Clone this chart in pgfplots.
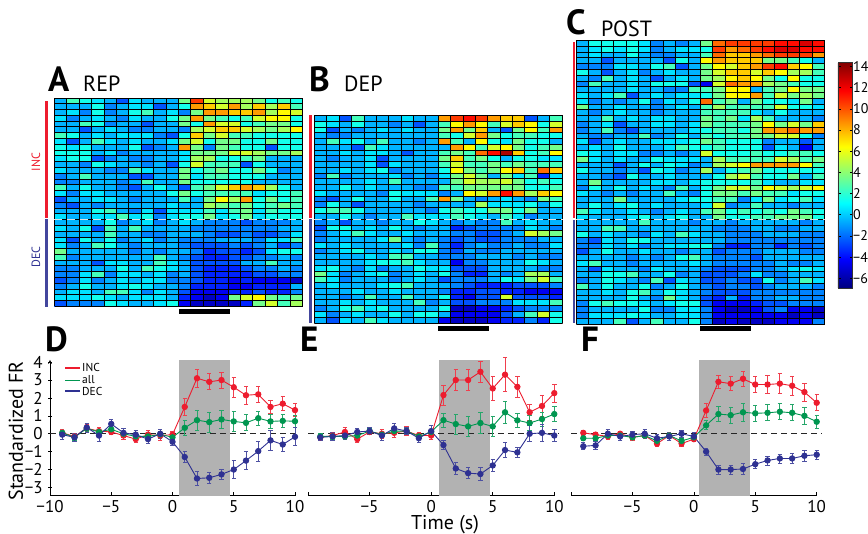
\documentclass[border=0pt]{standalone}
\usepackage{fontspec}
\setmainfont{PT Sans}
\usepackage{pgfplots}
\usepackage{pgfplotstable}
\pgfplotsset{compat=1.18}
\definecolor{cinc}{RGB}{237,28,46}
\definecolor{call}{RGB}{0,150,80}
\definecolor{cdec}{RGB}{46,49,146}
\pgfdeclareplotmark{cell}{%
 \pgfpathrectangle{\pgfpoint{-6.3pt}{-3pt}}{\pgfpoint{12.6pt}{6pt}}%
 \pgfusepathqfill}
\pgfplotstableread[header=false]{
-1 2 1 0 -1 -3 0 -1 -1 -1 3 10 5 4 4 4 3 1 2 1
-1 -1 -1 1 -2 -1 0 0 -3 -1 1 8 7 5 8 4 7 4 7 2
-1 0 -2 1 -2 -1 1 2 -1 0 -2 3 8 8 7 7 8 4 6 5
0 -2 -1 0 -1 -2 0 -1 -1 1 3 8 3 2 1 2 5 6 6 1
-1 -1 2 1 -2 -1 -1 -3 -1 -1 3 1 8 5 5 1 2 3 3 1
-1 -1 -3 -1 0 -1 -2 -2 -1 -1 -2 4 5 7 7 5 4 3 4 6
2 1 -1 0 -1 0 0 0 -2 -3 1 7 3 5 2 2 1 1 1 1
0 -3 -1 2 0 -1 0 -1 -1 0 3 5 1 3 3 1 1 3 1 1
1 0 1 -1 -1 -1 1 -3 -2 -1 8 3 -2 3 2 1 1 -3 1 1
1 1 1 -1 0 -2 -1 -1 -1 -1 0 3 3 3 5 5 4 3 3 4
0 1 1 -3 -2 -1 -2 -2 -1 -1 0 4 4 1 1 2 3 -1 -1 -1
-1 -1 -2 1 0 -1 -1 -2 -1 -3 1 5 2 2 2 -3 1 -1 -1 -1
0 -1 -1 -1 -2 -2 2 0 -1 -1 3 1 2 3 1 1 3 1 -2 -1
-2 -1 2 -1 -1 -1 -3 -3 -1 -1 3 0 2 2 1 1 1 -1 -1 -1
-2 -2 -1 -1 -1 -2 -1 2 -1 -1 3 1 1 1 1 1 -1 -1 -1 -1
2 -1 1 -1 -1 -2 -3 -1 1 -1 -3 2 3 5 7 8 7 4 1 -1
0 -2 0 0 -1 -1 -1 -1 -1 1 3 1 2 2 2 2 0 1 1 2
-3 -1 -1 0 0 -1 -2 -1 -1 -1 2 -1 3 6 4 8 1 3 1 2
-2 -3 -1 -2 -1 -1 -1 -1 -1 0 -1 -1 4 3 2 3 1 2 3 2
-1 -1 -1 1 2 -1 -2 0 -3 0 0 0 2 0 2 3 0 2 1 1
0 -1 -1 0 0 2 0 1 -2 0 1 1 3 0 1 3 0 1 1 1
-1 -1 -1 -1 1 -2 -1 0 -2 -1 0 -1 -2 -2 -2 -3 -2 -2 -2 -1
0 -1 1 -3 2 -1 2 -1 -1 -1 -1 -2 -2 -2 -2 -2 -2 -2 -1 -1
-1 -1 -1 -1 2 -1 -1 -2 -2 -1 -1 -1 -2 -3 -3 -2 -3 -3 -2 0
0 -3 1 -1 1 -2 -1 0 -2 -1 -2 -2 -2 -1 -1 -1 -2 0 0 2
0 -2 -1 2 1 -1 -2 -1 -1 -1 -2 -3 -3 -3 -2 -3 -2 -1 -3 -2
3 -1 -1 -1 -1 -1 -2 -1 -2 -1 -1 -2 -4 -3 -3 -4 -3 0 1 1
2 -2 -1 -1 -1 -1 -1 -1 2 -1 -2 -3 -4 -4 -3 -3 -2 -2 -1 -2
-1 -1 -1 -3 0 0 -1 -1 2 0 -1 -3 -3 -3 -3 -1 -1 2 -1 -1
-2 -2 -1 -1 -1 1 -1 2 1 0 -1 -3 -4 -4 -4 -3 -2 -2 -1 -2
-2 -2 0 2 -2 0 0 -1 0 -2 -1 -3 -4 -4 -4 -4 -3 -3 -2 -2
-3 -2 0 -2 -1 0 -1 0 0 -2 -2 -3 -4 -4 -5 -4 -5 -5 -5 -6
-2 -1 1 -1 -1 0 1 0 -1 -1 -2 -4 -4 -4 -5 -5 -4 -4 -4 -1
-1 0 0 -1 2 2 0 -2 0 -1 -3 -5 -5 -5 -4 -4 -3 -4 -4 -2
0 0 0 1 0 -1 0 0 0 -1 -4 -5 -6 -5 3 5 6 3 2 3
-3 -2 -2 -2 1 0 -1 -1 0 1 -5 -6 -6 -6 -6 -4 3 5 2 4
}\tA
\pgfplotstableread[header=false]{
-1 0 -3 2 -1 -1 -1 0 -1 -1 8 10 11 10 8 7 7 -3 -1 2
1 0 -1 1 -1 -1 -2 -1 -3 -1 2 6 8 6 2 5 7 6 1 5
1 -3 -1 -2 -1 0 -1 0 -1 -1 3 8 3 7 -1 -3 3 6 2 8
-1 -2 -2 -1 -1 -1 -1 -1 -1 -1 2 1 5 8 3 1 2 2 1 1
-1 2 0 1 -1 2 -1 -1 -2 -1 8 2 -1 6 1 0 3 1 1 -1
-1 -1 -1 -3 2 0 -1 -1 -1 -1 -1 8 6 2 5 6 3 1 2 3
-1 -1 0 -1 0 0 -1 -3 -1 -1 2 3 2 9 11 13 7 1 2 6
-1 -2 -1 -1 0 -3 -1 -1 -1 -1 3 7 2 3 1 -1 1 1 0 0
-1 -1 -1 -1 0 -3 0 -1 -1 -1 2 5 2 2 3 2 3 2 2 2
-1 -1 0 -1 0 1 -2 -1 -1 -1 1 6 3 2 3 6 7 2 9 7
-2 2 -2 -1 -1 -1 0 -2 -1 -2 0 3 5 3 -1 3 0 2 -4 0
-1 -1 -1 -1 0 -1 2 -1 -1 -1 -1 3 5 4 4 5 3 1 2 1
-1 -1 1 -1 0 -1 -1 -1 -2 -2 2 2 3 3 3 3 3 1 1 2
0 -1 -1 -1 -1 -2 1 0 0 0 -2 -1 6 5 8 11 8 4 7 6
-2 -3 -1 1 -1 -1 1 -1 -1 2 8 3 -1 -2 -1 0 -1 -2 3 2
-2 1 -1 -3 -1 -1 -1 -1 -2 -1 -1 -1 -1 4 0 0 0 1 -1 1
1 2 2 1 -1 -1 -1 -1 -1 -2 1 2 1 1 3 3 1 3 -1 -1
-1 -1 1 -1 -2 -1 -1 2 0 0 0 2 1 0 -1 2 0 -2 -1 -1
-2 -1 -3 -1 -1 -2 -1 -1 1 0 -1 -2 -1 -2 -2 2 -1 0 -1 -1
-3 1 1 -1 0 -1 1 -1 -2 -1 -1 -4 -3 -2 -2 -2 -2 0 -1 -2
-2 -1 0 2 0 -1 -1 0 -1 -1 -1 -2 -2 -3 -3 -2 -1 5 4 3
-2 -1 -1 -1 -1 0 3 -1 -2 -1 -2 -3 -2 -3 -3 -2 -2 -2 -1 -1
0 -1 0 -1 -1 -1 -1 0 -2 2 -2 -4 -2 -1 -2 -2 -1 -2 -2 0
-2 -1 0 1 -1 -1 0 -1 1 1 -2 -3 -1 -2 -2 -1 -1 -1 -1 -1
-1 -1 -1 -1 0 -1 2 2 -1 -1 -2 -2 -2 -1 -1 -1 -2 -1 -2 -2
-1 -1 -1 -1 0 1 1 2 0 -1 -1 -5 -2 -2 -1 -1 -1 1 0 -1
0 1 -1 -2 0 -2 -1 -1 1 0 0 -3 -3 -3 -1 -1 -1 -1 -2 -2
3 0 -2 -1 0 1 -2 -1 0 -1 1 -2 -4 -4 -1 -2 -1 4 4 -1
2 0 -2 -1 -1 -1 -2 -1 0 -1 -3 -2 -2 -2 -1 1 0 3 5 2
-1 0 -1 -1 -1 0 1 2 -1 -1 -1 -2 -3 -4 -4 -4 -3 -3 -3 -2
-1 -1 -1 0 -1 -1 0 -1 -1 -1 -2 -4 -4 -3 -3 -4 -4 -5 -5 -5
-1 -1 -2 -1 2 -1 -1 2 -1 -1 1 -4 -5 -3 -3 5 -3 -3 -3 -4
-1 -1 0 -1 0 -1 -1 -1 2 -2 -1 -3 -3 -2 -2 -2 0 0 0 2
-2 -1 1 2 0 1 -1 -1 -1 -1 1 -6 -6 -5 -5 -4 -3 -2 -2 -2
0 -2 -1 0 -1 -1 1 -1 1 1 -1 -5 -5 -5 -5 -3 -1 2 5 1
-1 -3 0 -1 2 0 -1 -1 -1 -1 -5 -6 -6 -6 -5 -4 -4 -2 -4 1
}\tB
\pgfplotstableread[header=false]{
-1 1 1 1 1 0 -2 -1 -2 -1 3 9 10 10 10 10 11 11 12 11
-1 0 1 0 1 0 -2 -1 0 0 1 10 8 9 10 11 12 12 11 11
-1 0 -1 -1 1 -1 -2 -2 -1 -1 2 9 7 7 8 9 10 10 10 8
-1 -1 -3 -1 -1 -1 -1 -3 1 -1 6 8 7 7 7 3 3 2 1 -1
-2 -2 -2 0 0 -1 1 2 -3 -1 3 6 5 7 8 10 11 7 6 2
1 -1 -3 -1 0 -2 -1 0 -1 -1 3 5 7 7 5 7 6 4 4 2
-1 -2 2 -1 0 -1 -3 -1 0 -1 3 4 6 7 6 3 1 6 1 1
-2 2 -1 -1 0 -1 1 1 1 -3 -5 5 9 8 8 4 3 2 1 1
-1 -1 -1 -1 0 -1 -1 -2 -2 2 2 3 6 6 -1 2 3 6 3 3
0 -1 0 2 -3 -1 0 -1 0 0 1 3 6 6 8 2 5 3 4 3
0 -2 -1 -2 -1 1 -2 0 -1 1 9 2 3 -1 3 1 1 0 3 -1
3 -1 -1 0 -1 -1 -2 -1 0 -1 2 4 2 2 2 2 5 1 1 0
-1 -2 -1 0 -1 -1 -2 -1 -1 -1 2 2 2 2 0 -1 1 -1 -1 -1
-1 -1 2 -1 0 -1 0 0 -1 -1 3 2 3 0 4 2 -1 -1 -1 -2
-2 -1 0 -3 -1 -1 0 0 -1 0 3 2 2 2 3 6 3 5 3 7
-2 -1 2 -2 -3 -1 -1 -1 -1 0 1 2 2 1 3 8 8 9 8 8
-1 -2 -2 -1 -1 2 -2 -1 1 -1 2 1 2 2 3 3 5 5 1 -2
0 -3 -1 0 -1 -1 0 0 0 1 3 2 1 1 1 -2 -1 -1 -3 -1
-1 0 -1 1 -1 -1 -1 0 2 1 1 2 1 1 1 -3 0 -1 -5 -1
1 0 -1 0 0 -2 -2 -1 -2 -1 5 1 1 1 2 1 1 2 2 1
3 0 -1 0 -1 -1 1 0 0 0 -1 4 2 2 2 2 5 4 2 3
-1 -1 -1 -3 -1 1 -1 1 0 -2 -1 4 5 6 8 8 8 8 6 2
1 -1 -1 -2 -1 -3 1 0 -2 -1 4 -1 1 2 3 1 1 1 1 1
-1 -1 -2 -3 1 -1 -1 0 -1 -1 -1 1 4 5 2 1 1 3 -1 2
-1 3 -1 -1 -1 -1 0 0 -1 0 1 1 1 1 2 0 -1 -1 0 0
-2 1 -1 1 -1 0 -1 -2 2 -1 1 3 5 5 3 6 5 4 5 6
0 -1 -2 -1 -2 -1 -1 2 -1 -2 1 3 3 2 3 2 2 0 1 1
-1 -1 -1 3 -1 -1 -1 -1 0 1 1 2 2 -2 0 3 0 1 2 0
-1 1 -1 0 1 -1 0 -1 -1 -1 0 5 -2 -1 2 -1 -1 -2 -1 -1
2 0 -1 -1 0 -1 -2 -1 0 -1 2 3 1 2 1 2 1 3 2 1
0 -1 -1 -1 0 1 -1 0 1 -1 -1 3 1 1 2 2 3 3 3 1
-1 -1 -1 -1 -1 2 -1 -1 -1 -2 -1 -1 -2 -1 -1 -1 -1 -1 -2 -1
-1 -1 2 2 -1 -1 -1 -1 -1 -1 -1 -2 -2 -2 -1 -1 -2 -2 -1 -1
1 -1 0 -1 -1 -2 0 -1 2 0 -1 -1 -2 -2 -2 -1 -1 -1 -2 -2
-2 -3 0 -1 1 1 -1 -1 -1 -1 -1 -1 -2 -2 -2 -2 -2 -2 -2 -2
-2 -2 0 -1 0 -2 -1 0 0 1 1 -2 -4 -4 -2 -2 -4 -2 -3 -2
-3 -1 1 -1 -1 0 -1 -1 -2 -1 -1 -3 -2 -2 -2 -1 -1 -1 -2 -2
-1 -1 -1 -1 -2 -1 -2 -1 1 2 -1 -2 -2 -2 -3 -1 -1 -1 -1 -1
0 2 -1 -1 -2 -1 -1 -1 -1 0 -1 -2 -2 -2 -2 -2 -1 -2 -2 -1
-1 -3 0 -1 -1 -2 0 -1 -1 -1 -2 -3 -3 -3 -2 -2 -1 0 1 0
-1 -1 1 1 2 -1 -1 1 -2 -1 -3 -3 -3 -2 0 -2 -2 -1 -1 -1
-2 -1 1 0 -1 -2 2 -3 0 -1 -3 -3 -2 -3 -3 1 -2 -1 2 0
2 -1 1 -1 -1 1 -2 -1 1 -1 -2 -3 -2 -2 -3 -2 -1 -1 -1 -2
-1 -1 0 -1 1 2 -1 1 0 -1 -2 -3 -3 -3 -2 -2 -2 -2 -2 -2
-1 -1 -1 -1 1 -1 -2 3 0 -1 -3 -4 -1 -4 -2 -2 -1 -1 -2 -2
-2 1 2 1 1 0 -1 0 1 1 -3 -5 -5 -5 -4 -3 -3 -2 -2 -2
-2 -1 -1 -1 -1 1 -2 -2 0 0 -2 -5 -6 -6 -5 -3 -2 -5 -5 -6
-2 0 0 0 1 0 -1 -1 0 0 -2 -5 -5 -5 -5 -5 -5 -6 -5 -6
-1 -1 -1 2 -3 -1 2 -1 -1 1 -2 -6 -5 -6 -6 -6 -5 -5 -5 -2
}\tC
\pgfplotsset{
 heat/.style={
  scale only axis, axis on top, clip=false,
  width=#1, xmin=-0.5, xmax=19.5,
  xtick=\empty, ytick=\empty,
  y dir=reverse, colormap/jet, point meta min=-6.9, point meta max=14.4,
  axis line style={black!70, line width=.6pt},
 },
 line/.style={
  scale only axis, width=#1, height=135.7pt, xmin=-10, xmax=10, ymin=-3.46, ymax=4.12,
  clip=false,
  axis x line=bottom, axis line style={-, line width=.7pt},
  tick align=inside, major tick length=3.5pt,
  tick style={black, line width=.7pt},
  xtick={-10,-5,0,5,10},
  xtick style={draw=black},
  tick label style={font=\fontsize{17}{17}\selectfont},
  xticklabel style={yshift=-1pt},
 },
 ser/.style={color=#1, mark=*, mark size=2.7pt, line width=.9pt,
  mark options={solid},
  error bars/.cd, y dir=both, y explicit,
  error bar style={line width=.8pt, #1!85!white},
  error mark options={rotate=90, mark size=2.2pt, line width=.8pt, #1!85!white}},
 sep/.style={black, line width=0.95pt, forget plot, mark=none},
}
\newcommand{\heatcols}[1]{%
 \pgfplotsinvokeforeach{0,...,19}{%
  \addplot[scatter, only marks, scatter src=explicit, mark=cell,
   scatter/use mapped color={fill=mapped color}]
   table[x expr=##1, y expr=\coordindex, meta expr=\thisrowno{##1}+0.5]{#1};
 }}
% overlay axis with the row separators: #1 width, #2 height, #3 position, #4 last row edge
\newcommand{\heatgrid}[4]{%
 \begin{axis}[scale only axis, width=#1, height=#2, at={#3}, anchor=south west, hide axis, clip=false,
   xmin=-0.5, xmax=19.5, ymin=-0.5, ymax=#4, y dir=reverse]
 \pgfplotsinvokeforeach{-0.5,0.5,...,#4}{%
  \addplot[sep] coordinates {(-0.5,##1)(19.5,##1)};
 }
 \end{axis}}
\newcommand{\common}[2]{%
 \addplot[fill=black!30, draw=none, forget plot] coordinates {(#1,-3.46)(#2,-3.46)(#2,4.12)(#1,4.12)} -- cycle;
 \addplot[black!85, dash pattern=on 6pt off 4pt, line width=.8pt, forget plot] coordinates {(-10,0)(10.4,0)};
}
\begin{document}
\begin{tikzpicture}[x=1pt,y=1pt]
\path[use as bounding box] (0,0) rectangle (868,534);
% ---- heatmaps
\begin{axis}[heat=248pt, at={(54.5pt,227.5pt)}, anchor=south west, height=208.5pt, ymin=-0.5, ymax=35.5]
\heatcols{\tA}
\end{axis}
\heatgrid{248pt}{208.5pt}{(54.5pt,227.5pt)}{35.5}
\begin{axis}[heat=247.5pt, at={(314.5pt,211pt)}, anchor=south west, height=207.5pt, ymin=-0.5, ymax=35.5]
\heatcols{\tB}
\end{axis}
\heatgrid{247.5pt}{207.5pt}{(314.5pt,211pt)}{35.5}
\begin{axis}[heat=248pt, at={(576.5pt,210pt)}, anchor=south west, height=283.5pt, ymin=-0.5, ymax=48.5,
 colorbar, colorbar style={at={(1.0544,0.923)}, anchor=north west, scale only axis, width=14.7pt, height=225.4pt,
  ytick={-6,-4,-2,0,2,4,6,8,10,12,14},
  yticklabels={−6,−4,−2,0,2,4,6,8,10,12,14},
  tick align=inside, major tick length=3pt, tick style={black, line width=.6pt},
  yticklabel style={font=\fontsize{14}{14}\selectfont, xshift=-3pt},
  axis line style={black!80},
 }]
\heatcols{\tC}
\end{axis}
\heatgrid{248pt}{283.5pt}{(576.5pt,210pt)}{48.5}
% column separators of the three heatmaps
\foreach \i in {0,...,20} {
 \draw[black, line width=.95pt] ({54.5+\i*12.4},227.5)--({54.5+\i*12.4},436);
 \draw[black, line width=.95pt] ({314.5+\i*12.375},211)--({314.5+\i*12.375},418.5);
 \draw[black, line width=.95pt] ({576.5+\i*12.4},210)--({576.5+\i*12.4},493.5);
}
% ---- line plots
\begin{axis}[line=245pt, at={(50pt,38.3pt)}, anchor=south west,
  axis y line=left, xticklabels={−10,−5,0,5,10},
  ytick={-3,-2,-1,0,1,2,3,4}, yticklabels={−3,−2,−1,0,1,2,3,4},
  yticklabel style={xshift=-2pt},
 ]
\common{0.5}{4.67}
\addplot[ser=cinc] coordinates {(-9,0.05)+-(0,.2)(-8,-0.15)+-(0,.18)(-7,0.3)+-(0,.2)(-6,0.15)+-(0,.2)(-5,0.1)+-(0,.15)(-4,-0.1)+-(0,.2)(-3,-0.3)+-(0,.2)(-2,-0.05)+-(0,.25)(-1,-0.1)+-(0,.25)(0,-0.05)+-(0,.2)(1,1.5)+-(0,.5)(2,3.1)+-(0,.5)(3,2.9)+-(0,.45)(4,3.0)+-(0,.45)(5,2.6)+-(0,.55)(6,2.15)+-(0,.5)(7,2.2)+-(0,.45)(8,1.5)+-(0,.35)(9,1.68)+-(0,.4)(10,1.32)+-(0,.35)};
\addplot[ser=call] coordinates {(-9,0.05)+-(0,.15)(-8,-0.2)+-(0,.15)(-7,0.3)+-(0,.15)(-6,0.1)+-(0,.15)(-5,0.25)+-(0,.15)(-4,0.0)+-(0,.15)(-3,-0.15)+-(0,.15)(-2,-0.15)+-(0,.15)(-1,-0.03)+-(0,.15)(0,-0.2)+-(0,.15)(1,0.33)+-(0,.4)(2,0.76)+-(0,.55)(3,0.65)+-(0,.55)(4,0.8)+-(0,.5)(5,0.69)+-(0,.55)(6,0.61)+-(0,.45)(7,0.87)+-(0,.4)(8,0.69)+-(0,.4)(9,0.72)+-(0,.35)(10,0.7)+-(0,.35)};
\addplot[ser=cdec] coordinates {(-9,-0.05)+-(0,.25)(-8,-0.2)+-(0,.2)(-7,0.35)+-(0,.25)(-6,-0.1)+-(0,.3)(-5,0.55)+-(0,.25)(-4,0.05)+-(0,.25)(-3,-0.05)+-(0,.25)(-2,-0.3)+-(0,.25)(-1,0)+-(0,.25)(0,-0.45)+-(0,.2)(1,-1.3)+-(0,.3)(2,-2.5)+-(0,.4)(3,-2.46)+-(0,.3)(4,-2.27)+-(0,.3)(5,-2)+-(0,.5)(6,-1.5)+-(0,.5)(7,-0.97)+-(0,.55)(8,-0.37)+-(0,.55)(9,-0.6)+-(0,.4)(10,-0.17)+-(0,.5)};
\end{axis}
\begin{axis}[line=246.3pt, at={(308pt,38.3pt)}, anchor=south west, axis y line=none, xticklabels={,−5,0,5,10}]
\common{0.65}{4.8}
\addplot[ser=cinc] coordinates {(-9,-0.2)+-(0,.15)(-8,-0.1)+-(0,.2)(-7,0.1)+-(0,.25)(-6,-0.3)+-(0,.2)(-5,0.1)+-(0,.15)(-4,0.0)+-(0,.25)(-3,0.05)+-(0,.25)(-2,0.15)+-(0,.25)(-1,-0.1)+-(0,.15)(0,-0.1)+-(0,.2)(1,2.16)+-(0,.55)(2,3.0)+-(0,.6)(3,3.0)+-(0,.6)(4,3.46)+-(0,.6)(5,2.53)+-(0,.65)(6,3.3)+-(0,.95)(7,2.62)+-(0,.6)(8,1.2)+-(0,.45)(9,1.55)+-(0,.6)(10,2.27)+-(0,.5)};
\addplot[ser=call] coordinates {(-9,-0.15)+-(0,.15)(-8,-0.15)+-(0,.15)(-7,-0.15)+-(0,.15)(-6,-0.1)+-(0,.15)(-5,0.15)+-(0,.15)(-4,-0.05)+-(0,.15)(-3,0.15)+-(0,.15)(-2,0.15)+-(0,.15)(-1,-0.15)+-(0,.15)(0,0.1)+-(0,.15)(1,0.76)+-(0,.4)(2,0.54)+-(0,.55)(3,0.41)+-(0,.55)(4,0.6)+-(0,.6)(5,0.41)+-(0,.55)(6,1.2)+-(0,.6)(7,0.75)+-(0,.4)(8,0.6)+-(0,.4)(9,0.82)+-(0,.4)(10,1.1)+-(0,.4)};
\addplot[ser=cdec] coordinates {(-9,-0.2)+-(0,.15)(-8,-0.15)+-(0,.2)(-7,-0.1)+-(0,.2)(-6,0.1)+-(0,.2)(-5,0.15)+-(0,.2)(-4,-0.1)+-(0,.25)(-3,0.3)+-(0,.3)(-2,0.15)+-(0,.2)(-1,-0.25)+-(0,.25)(0,0.15)+-(0,.3)(1,-0.63)+-(0,.25)(2,-1.94)+-(0,.35)(3,-2.2)+-(0,.3)(4,-2.25)+-(0,.35)(5,-1.77)+-(0,.35)(6,-0.91)+-(0,.4)(7,-1.04)+-(0,.3)(8,0)+-(0,.45)(9,0.05)+-(0,.5)(10,-0.1)+-(0,.35)};
\end{axis}
\begin{axis}[line=245.7pt, at={(571pt,38.3pt)}, anchor=south west, axis y line=none, xticklabels={,−5,0,5,10}]
\common{0.45}{4.6}
\addplot[ser=cinc] coordinates {(-9,0.05)+-(0,.15)(-8,-0.05)+-(0,.15)(-7,-0.15)+-(0,.15)(-6,0)+-(0,.15)(-5,-0.2)+-(0,.15)(-4,-0.1)+-(0,.15)(-3,-0.55)+-(0,.15)(-2,-0.1)+-(0,.15)(-1,-0.55)+-(0,.15)(0,-0.3)+-(0,.15)(1,1.3)+-(0,.4)(2,2.9)+-(0,.35)(3,2.8)+-(0,.4)(4,3.07)+-(0,.4)(5,2.75)+-(0,.45)(6,2.75)+-(0,.5)(7,2.8)+-(0,.55)(8,2.68)+-(0,.55)(9,2.33)+-(0,.5)(10,1.73)+-(0,.45)};
\addplot[ser=call] coordinates {(-9,-0.25)+-(0,.12)(-8,-0.25)+-(0,.12)(-7,-0.1)+-(0,.12)(-6,-0.1)+-(0,.12)(-5,-0.2)+-(0,.12)(-4,-0.1)+-(0,.12)(-3,-0.4)+-(0,.12)(-2,-0.1)+-(0,.12)(-1,-0.4)+-(0,.12)(0,-0.2)+-(0,.12)(1,0.47)+-(0,.25)(2,1.1)+-(0,.4)(3,1.04)+-(0,.45)(4,1.2)+-(0,.5)(5,1.14)+-(0,.45)(6,1.17)+-(0,.45)(7,1.23)+-(0,.45)(8,1.17)+-(0,.45)(9,1)+-(0,.45)(10,0.67)+-(0,.35)};
\addplot[ser=cdec] coordinates {(-9,-0.7)+-(0,.2)(-8,-0.65)+-(0,.2)(-7,0)+-(0,.25)(-6,-0.15)+-(0,.2)(-5,-0.05)+-(0,.2)(-4,0)+-(0,.25)(-3,-0.25)+-(0,.2)(-2,-0.15)+-(0,.2)(-1,0)+-(0,.2)(0,-0.15)+-(0,.2)(1,-1)+-(0,.2)(2,-2)+-(0,.25)(3,-2)+-(0,.25)(4,-1.97)+-(0,.3)(5,-1.7)+-(0,.25)(6,-1.49)+-(0,.25)(7,-1.38)+-(0,.25)(8,-1.38)+-(0,.3)(9,-1.23)+-(0,.3)(10,-1.17)+-(0,.25)};
\end{axis}
% ---- annotations (y measured from the bottom: 534-y_px)
\draw[white!88!black, dash pattern=on 8pt off 5pt, line width=1.2pt] (54,314.5)--(303,314.5);
\draw[white!88!black, dash pattern=on 8pt off 5pt, line width=1.2pt] (314,314.5)--(563,314.5);
\draw[white!88!black, dash pattern=on 8pt off 5pt, line width=1.2pt] (576,314.5)--(825,314.5);
\fill[cinc] (45,433) rectangle (47.5,316);
\fill[cdec!90!white] (45,315) rectangle (47.5,226.5);
\fill[cinc] (309,418.5) rectangle (311.5,316);
\fill[cdec!90!white] (309,315) rectangle (311.5,211);
\fill[cinc] (572.5,491.5) rectangle (575,316);
\fill[cdec!90!white] (572.5,314) rectangle (575,211);
\fill[black] (179,225) rectangle (230,220);
\fill[black] (438,208) rectangle (489,203);
\fill[black] (700,208) rectangle (751,203);
\node[rotate=90, text=cinc, font=\fontsize{12}{12}\selectfont] at (36,372) {INC};
\node[rotate=90, text=cdec, font=\fontsize{12}{12}\selectfont] at (36,277) {DEC};
\newcommand{\plab}[3]{\node[anchor=base west, inner sep=0pt, font=\fontsize{35}{35}\selectfont\bfseries] at (#1,#2) {#3};}
\newcommand{\pname}[3]{\node[anchor=base west, inner sep=0pt, font=\fontsize{22}{22}\selectfont] at (#1,#2) {#3};}
\plab{48}{442}{A}\pname{83}{442}{REP}
\plab{309}{442}{B}\pname{344}{442}{DEP}
\plab{566}{499}{C}\pname{601}{497}{POST}
\plab{45}{182}{D}\plab{300}{182}{E}\plab{581}{182}{F}
\node[font=\fontsize{20}{20}\selectfont] at (445,9) {Time (s)};
\node[rotate=90, font=\fontsize{20}{20}\selectfont] at (16,103) {Standardized FR};
% legend
\draw[cinc, line width=1.6pt] (65,166)--(80,166);
\draw[call, line width=1.6pt] (65,153.5)--(80,153.5);
\draw[cdec, line width=1.6pt] (65,143)--(80,143);
\node[anchor=west, inner sep=0pt, font=\fontsize{11.5}{11.5}\selectfont] at (82,166.5) {INC};
\node[anchor=west, inner sep=0pt, font=\fontsize{11.5}{11.5}\selectfont] at (82,154.5) {all};
\node[anchor=west, inner sep=0pt, font=\fontsize{11.5}{11.5}\selectfont] at (82,142.5) {DEC};
\end{tikzpicture}
\end{document}
